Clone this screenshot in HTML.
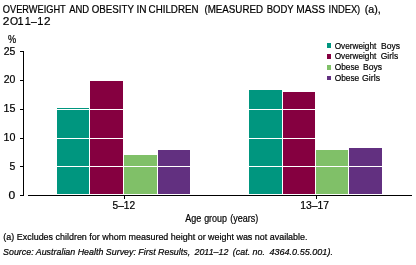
<!DOCTYPE html>
<html><head><meta charset="utf-8">
<style>
html,body{margin:0;padding:0;background:#fff;width:416px;height:265px;overflow:hidden}
svg{display:block;will-change:transform;font-family:"Liberation Sans",sans-serif}
</style></head>
<body>
<svg width="416" height="265" viewBox="0 0 416 265">
<rect x="0" y="0" width="416" height="265" fill="#fff"/>
<g shape-rendering="crispEdges">
<rect x="57" y="108" width="32" height="86" fill="#00967F"/>
<rect x="90" y="80.6" width="33" height="113.4" fill="#850040"/>
<rect x="124" y="155" width="33" height="39" fill="#80C068"/>
<rect x="158" y="150" width="32" height="44" fill="#623080"/>
<rect x="249" y="90" width="33" height="104" fill="#00967F"/>
<rect x="283" y="92" width="32" height="102" fill="#850040"/>
<rect x="316" y="150" width="32" height="44" fill="#80C068"/>
<rect x="349" y="148" width="33" height="46" fill="#623080"/>
</g>
<g fill="#fff" shape-rendering="crispEdges">
<rect x="28" y="109" width="384" height="1"/>
<rect x="28" y="138" width="384" height="1"/>
<rect x="28" y="166" width="384" height="1"/>
</g>
<g fill="#000" shape-rendering="crispEdges">
<rect x="23" y="51" width="1" height="145"/>
<rect x="20" y="51" width="3" height="1"/>
<rect x="20" y="80" width="3" height="1"/>
<rect x="20" y="109" width="3" height="1"/>
<rect x="20" y="138" width="3" height="1"/>
<rect x="20" y="166" width="3" height="1"/>
<rect x="20" y="195" width="3" height="1"/>
<rect x="28" y="195" width="384" height="1"/>
<rect x="124" y="196" width="1" height="3"/>
<rect x="316" y="196" width="1" height="3"/>
</g>
<g shape-rendering="crispEdges">
<rect x="327" y="43" width="4" height="5" fill="#00967F"/>
<rect x="327" y="54" width="4" height="5" fill="#850040"/>
<rect x="327" y="65" width="4" height="5" fill="#80C068"/>
<rect x="327" y="76" width="4" height="4" fill="#623080"/>
</g>
<g fill="#000" stroke="#000" stroke-width="0.2" xml:space="preserve">
<text transform="translate(2.84 12.70) scale(0.9243 1)" font-size="10">OVERWEIGHT</text>
<text transform="translate(69.20 12.70) scale(0.9466 1)" font-size="10">AND</text>
<text transform="translate(91.81 12.70) scale(0.9718 1)" font-size="10">OBESITY</text>
<text transform="translate(136.39 12.70) scale(1.0120 1)" font-size="10">IN</text>
<text transform="translate(148.61 12.70) scale(0.9779 1)" font-size="10">CHILDREN</text>
<text transform="translate(204.41 12.70) scale(0.9796 1)" font-size="10">(MEASURED</text>
<text transform="translate(266.64 12.70) scale(0.9524 1)" font-size="10">BODY</text>
<text transform="translate(296.29 12.70) scale(1.0185 1)" font-size="10">MASS</text>
<text transform="translate(328.56 12.70) scale(0.9352 1)" font-size="10">INDEX)</text>
<text transform="translate(364.66 12.70) scale(1.0667 1)" font-size="10">(a),</text>
<text transform="translate(2.70 24.90) scale(1.1957 1)" font-size="10">2</text>
<text transform="translate(9.88 24.90) scale(1.0441 1)" font-size="10">O</text>
<text transform="translate(31.00 24.90) scale(1.0357 1)" font-size="10">–</text>
<text transform="translate(43.91 24.90) scale(1.1739 1)" font-size="10">2</text>
<text transform="translate(7.93 42.50) scale(0.9136 1)" font-size="10">%</text>
<text transform="translate(3.68 54.60) scale(1.0087 1)" font-size="10.4">25</text>
<text transform="translate(3.68 83.20) scale(1.0087 1)" font-size="10.4">20</text>
<text transform="translate(3.44 112.00) scale(1.0295 1)" font-size="10.4">15</text>
<text transform="translate(3.44 140.80) scale(1.0295 1)" font-size="10.4">10</text>
<text transform="translate(9.58 169.60) scale(1.0025 1)" font-size="10.4">5</text>
<text transform="translate(8.62 199.00) scale(1.1619 1)" font-size="10.4">0</text>
<text transform="translate(112.49 209.00) scale(1.0188 1)" font-size="10">5–12</text>
<text transform="translate(300.27 209.00) scale(1.0377 1)" font-size="10">13–17</text>
<text transform="translate(185.20 221.60) scale(0.9017 1)" font-size="10">Age</text>
<text transform="translate(204.14 221.60) scale(0.8952 1)" font-size="10">group</text>
<text transform="translate(230.36 221.60) scale(0.8997 1)" font-size="10">(years)</text>
<text transform="translate(334.69 48.60) scale(0.8451 1)" font-size="9.75">Overweight</text>
<text transform="translate(381.02 48.60) scale(0.8750 1)" font-size="9.75">Boys</text>
<text transform="translate(334.69 59.30) scale(0.8451 1)" font-size="9.75">Overweight</text>
<text transform="translate(380.67 59.30) scale(0.8799 1)" font-size="9.75">Girls</text>
<text transform="translate(334.68 69.90) scale(0.8565 1)" font-size="9.75">Obese</text>
<text transform="translate(363.02 69.90) scale(0.8750 1)" font-size="9.75">Boys</text>
<text transform="translate(334.68 80.60) scale(0.8565 1)" font-size="9.75">Obese</text>
<text transform="translate(362.06 80.60) scale(0.8955 1)" font-size="9.75">Girls</text>
<text transform="translate(3.36 240.00) scale(0.9423 1)" font-size="9.5">(a) Excludes children for whom measured height or weight was not available.</text>
<text transform="translate(3.03 255.00) scale(0.9354 1)" font-size="9.5" font-style="italic">Source: Australian Health Survey: First Results,</text>
<text transform="translate(194.50 255.00) scale(0.9335 1)" font-size="9.5" font-style="italic">2011–12</text>
<text transform="translate(232.86 255.00) scale(0.9364 1)" font-size="9.5" font-style="italic">(cat. no.</text>
<text transform="translate(269.41 255.00) scale(0.9561 1)" font-size="9.5" font-style="italic">4364.0.55.001).</text>
<text transform="translate(17.76 24.90)" font-size="10">1</text>
<rect x="18.36" y="23.9" width="4.8" height="1" stroke="none"/>
<text transform="translate(24.90 24.90)" font-size="10">1</text>
<rect x="25.50" y="23.9" width="4.8" height="1" stroke="none"/>
<text transform="translate(37.50 24.90)" font-size="10">1</text>
<rect x="38.10" y="23.9" width="4.8" height="1" stroke="none"/>
</g>
</svg>
</body></html>
